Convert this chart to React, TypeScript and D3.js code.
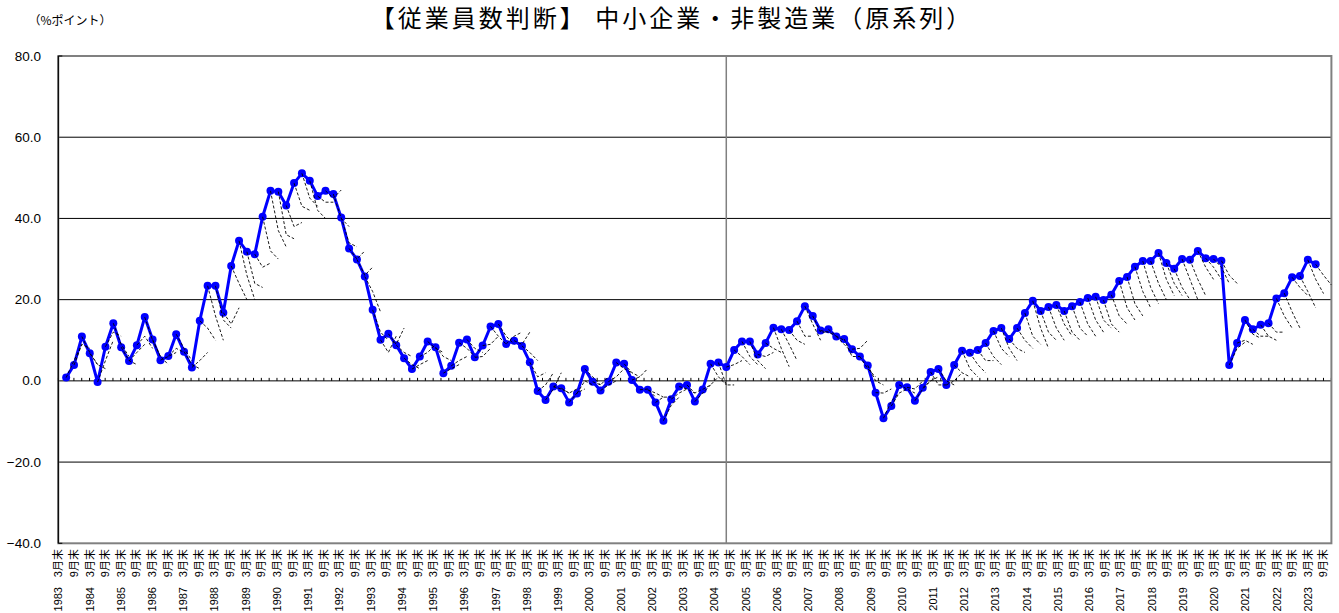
import * as d3 from 'd3';

// 従業員数判断 BSI (中小企業・非製造業, 原系列), 四半期末, 1983年6月末〜
const values = [
  0.8, 3.9, 10.9, 6.8, -0.3, 8.4, 14.2, 8.3, 4.9, 8.8,
  15.7, 10.2, 5.1, 6.1, 11.5, 7.2, 3.3, 14.8, 23.4, 23.4,
  16.8, 28.3, 34.5, 31.8, 31.2, 40.4, 46.8, 46.6, 43.2, 48.7,
  51.1, 49.3, 45.5, 46.8, 46.0, 40.2, 32.6, 29.9, 25.7, 17.5,
  10.1, 11.6, 8.8, 5.6, 2.9, 6.0, 9.7, 8.3, 1.9, 3.7,
  9.4, 10.2, 5.8, 8.7, 13.4, 14.0, 9.1, 9.9, 8.6, 4.6,
  -2.5, -4.7, -1.4, -1.8, -5.3, -3.1, 2.9, -0.2, -2.4, -0.2,
  4.5, 4.2, 0.2, -2.2, -2.2, -5.3, -9.8, -4.5, -1.4, -1.0,
  -5.1, -2.1, 4.2, 4.5, 3.4, 7.6, 9.7, 9.7, 6.5, 9.3,
  13.1, 12.7, 12.5, 14.7, 18.4, 16.0, 12.4, 12.7, 10.9, 10.3,
  7.8, 6.0, 3.8, -2.9, -9.2, -6.2, -1.0, -1.6, -4.9, -1.7,
  2.2, 2.9, -1.0, 3.9, 7.4, 6.9, 7.6, 9.3, 12.3, 13.0,
  10.3, 13.0, 16.7, 19.7, 17.2, 18.2, 18.7, 17.2, 18.4, 19.4,
  20.4, 20.7, 19.9, 21.2, 24.6, 25.6, 28.1, 29.5, 29.5, 31.5,
  29.0, 27.6, 30.0, 29.8, 32.0, 30.2, 30.0, 29.6, 3.9, 9.3,
  15.0, 12.7, 13.8, 14.2, 20.3, 21.6, 25.5, 25.8, 29.8, 28.7,
];

// 見通し: 翌期末
const outlook1 = [
  5, 9, 7, 4, 5, 12, 9, 5, 7, 11,
  10, 6, 6, 8, 8, 4, 5, 13, 16, 15,
  14, 24, 26, 24, 28, 32, 37, 36, 38, 43,
  45, 42, 44, 45, 40, 34, 30, 26, 22, 12,
  7, 9, 7, 4, 4, 7, 8, 6, 3, 5,
  8, 8, 6, 9, 11, 11, 11, 9, 7, 1,
  -1, -2, -2, -3, -3, 0, 1, -1, -1, 1,
  3, 2, 1, -2, -3, -4, -6, -3, -2, -3,
  -3, -1, 1, -1, 4, 6, 6, 5, 6, 8,
  8, 9, 10, 11, 14, 12, 12, 11, 9, 6,
  8, 3, 0, -3, -5, -3, -2, -2, -2, 0,
  -1, 0, 0, 2, 3, 4, 5, 6, 8, 8,
  8, 10, 11, 13, 12, 13, 14, 12, 13, 14,
  15, 15, 14, 16, 18, 19, 22, 23, 24, 25,
  24, 23, 25, 25, 28, 28, 28, 26, 8, 10,
  11.5, 11, 11, 12, 16, 17, 23, 22, 25, 26,
];

// 見通し: 翌々期末
const outlook2 = [
  9, 8, 4, 3, 10, 11, 6, 4, 9, 8,
  6, 4, 7, 7, 5, 3, 7, 10, 10, 13,
  18, 20, 20, 23, 29, 30, 33, 35, 39, 42,
  43, 40, 44, 47, 38, 33, 32, 28, 17, 10,
  11, 13, 6, 3, 5, 9, 7, 5, 4, 6,
  6, 7, 8, 11, 9, 9, 12, 12, 5, 2,
  2, 2, -3, -2, -2, -1, -1, 1, 0, 3,
  2, 1, 3, -4, -4, -4, -4, -2, -3, -2,
  -1, 1, -1, -1, 5, 4, 4, 3, 7, 7,
  3.5, 5, 9, 11, 10, 12, 11, 10, 7, 6,
  10, 1, -1, -2, -3, -2, -3, 0, 0, 1,
  -1, -1, 2, 1, 1, 2, 5, 4, 6, 5,
  7, 8, 9, 8, 10, 10, 11, 10, 11, 11,
  12, 13, 12, 14, 15, 16, 18, 19, 20, 21,
  21, 20, 20, 21, 25, 25, 24, 24, 9.5, 9,
  10.5, 11, 10, 12, 13, 13, 21, 18, 21.5, 23.6,
];

const years = [
  1983, 1984, 1985, 1986, 1987, 1988, 1989, 1990, 1991, 1992,
  1993, 1994, 1995, 1996, 1997, 1998, 1999, 2000, 2001, 2002,
  2003, 2004, 2005, 2006, 2007, 2008, 2009, 2010, 2011, 2012,
  2013, 2014, 2015, 2016, 2017, 2018, 2019, 2020, 2021, 2022, 2023,
];
const yTicks = [80, 60, 40, 20, 0, -20, -40];
const seriesBreak = 84; // 2004年6月末 (調査切替)

const W = 1339;
const H = 613;
const left = 58.3;
const right = 1331.4;
const top = 56;
const bottom = 543.3;

const labelFont = '"Liberation Sans", "Noto Sans CJK JP", sans-serif';
const jpFont = '"Noto Sans CJK JP", sans-serif';

export default function App() {
  // quarterly label categories: 3月末, (6月), 9月末, (12月)
  const cats: { key: string; year: number | null; month: string | null }[] = [];
  years.forEach((y) => {
    cats.push({ key: `${y}-3`, year: y, month: '3月末' });
    cats.push({ key: `${y}-6`, year: null, month: null });
    cats.push({ key: `${y}-9`, year: null, month: '9月末' });
    cats.push({ key: `${y}-12`, year: null, month: null });
  });

  const xCat = d3.scalePoint<string>().domain(cats.map((c) => c.key)).range([left, right - 0.1]);
  const x = d3.scaleLinear().domain([-1, values.length + 1]).range([left, right]);
  const y = d3.scaleLinear().domain([-40, 80]).range([bottom, top]);

  const line = d3.line<number>().x((_, i) => x(i)).y((d) => y(d));

  const outlookPaths = values.map((v, i) => {
    const pts: [number, number][] = [
      [x(i), y(v)],
      [x(i + 1), y(outlook1[i])],
      [x(i + 2), y(outlook2[i])],
    ];
    return d3.line()(pts) || '';
  });

  return (
    <svg
      width={W}
      height={H}
      style={{ position: 'absolute', left: 0, top: 0, background: '#fff' }}
    >
      <text x={672} y={27} textAnchor="middle" fontFamily={jpFont} fontSize={24} letterSpacing={3} fill="#000">
        【従業員数判断】 中小企業・非製造業（原系列）
      </text>
      <text x={70} y={25} textAnchor="middle" fontFamily={jpFont} fontSize={12} fill="#000">
        （%ポイント）
      </text>

      {/* grid */}
      {yTicks.filter((t) => t !== 80 && t !== -40 && t !== 0).map((t) => (
        <line key={t} x1={left} x2={right} y1={y(t)} y2={y(t)} stroke="#000" strokeWidth={1} />
      ))}

      {/* 2004 break */}
      <line x1={x(seriesBreak)} x2={x(seriesBreak)} y1={top} y2={bottom} stroke="#808080" strokeWidth={1.5} />

      {/* zero axis with ticks */}
      <line x1={left} x2={right} y1={y(0)} y2={y(0)} stroke="#000" strokeWidth={1} />
      {cats.map((c) => (
        <line key={c.key} x1={xCat(c.key)} x2={xCat(c.key)} y1={y(0)} y2={y(0) - 3} stroke="#000" strokeWidth={1} />
      ))}

      {/* frame */}
      <rect x={left} y={top} width={right - left} height={bottom - top} fill="none" stroke="#808080" strokeWidth={2} />
      <line x1={left} x2={left} y1={top} y2={bottom} stroke="#000" strokeWidth={1.2} />
      <line x1={left} x2={left + 4} y1={top} y2={top} stroke="#000" strokeWidth={1} />
      <line x1={left} x2={left + 4} y1={bottom} y2={bottom} stroke="#000" strokeWidth={1} />

      {/* y labels */}
      {yTicks.map((t) => (
        <text key={t} x={41} y={y(t) + 4.5} textAnchor="end" fontFamily={labelFont} fontSize={13.5} fill="#000">
          {t < 0 ? `−${Math.abs(t).toFixed(1)}` : t.toFixed(1)}
        </text>
      ))}

      {/* series */}
      <path d={line(values) || ''} fill="none" stroke="#0000ff" strokeWidth={3} strokeLinejoin="round" />
      {values.map((v, i) => (
        <circle key={i} cx={x(i)} cy={y(v)} r={4} fill="#0000ff" />
      ))}

      {/* outlook dashed */}
      {outlookPaths.map((d, i) => (
        <path key={i} d={d} fill="none" stroke="#000" strokeWidth={0.9} strokeDasharray="3,2" />
      ))}

      {/* x labels */}
      {cats.map((c) => {
        if (!c.month) return null;
        const cx = xCat(c.key)!;
        return (
          <g key={c.key}>
            <text
              transform={`translate(${cx + 4},549) rotate(-90)`}
              textAnchor="end"
              fontFamily={labelFont}
              fontSize={11}
              fill="#000"
            >
              {c.month}
            </text>
            {c.year !== null && (
              <text
                transform={`translate(${cx + 4},587) rotate(-90)`}
                textAnchor="end"
                fontFamily={labelFont}
                fontSize={11}
                fill="#000"
              >
                {c.year}
              </text>
            )}
          </g>
        );
      })}
    </svg>
  );
}
